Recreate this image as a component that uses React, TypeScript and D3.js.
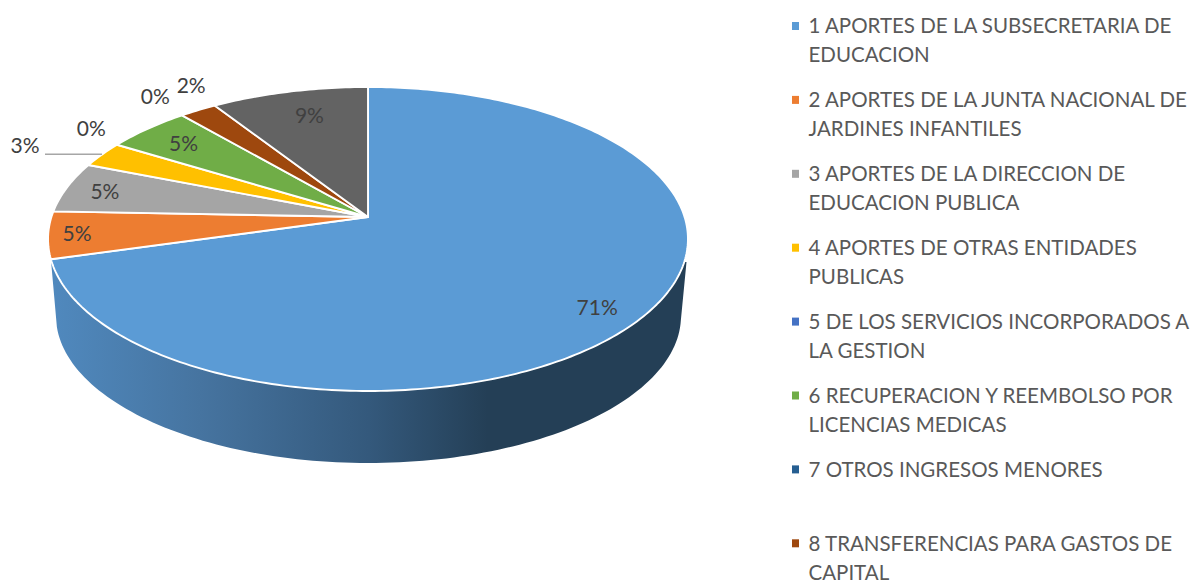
import React from "react";
import * as d3 from "d3";

const WIDTH = 1190;
const HEIGHT = 581;

// Data
const sliceValues = [70.6, 5.0, 5.4, 2.75, 0, 4.95, 0, 2.16, 9.14];
const sliceColors = ["#5B9BD5", "#ED7D31", "#A5A5A5", "#FFC000", "#4472C4", "#70AD47", "#255E91", "#9E480E", "#636363"];
const legendLines = [
  ["1 APORTES DE LA SUBSECRETARIA DE", "EDUCACION"],
  ["2 APORTES DE LA JUNTA NACIONAL DE", "JARDINES INFANTILES"],
  ["3 APORTES DE LA DIRECCION DE", "EDUCACION PUBLICA"],
  ["4 APORTES DE OTRAS ENTIDADES", "PUBLICAS"],
  ["5 DE LOS SERVICIOS INCORPORADOS A", "LA GESTION"],
  ["6 RECUPERACION Y REEMBOLSO POR", "LICENCIAS MEDICAS"],
  ["7 OTROS INGRESOS MENORES"],
  ["8 TRANSFERENCIAS PARA GASTOS DE", "CAPITAL"],
];
// label offsets from the projected slice midpoint (layout only)
const labelNudges = [
  [12, 12.5], [-36, 1.5], [-21, -2.5], [-127.5, -21.5], [-73, -31], [-5, -2.5], [-61, -39], [-38, -45], [6, 0.5],
];

// Perspective projection of the pie's top face
const CX = 368;
const APEX_Y = 217;
const K = 0.1447;
const A = 148.8;
const B = 316.6;
const project = (theta: number, r = 1): [number, number] => {
  const u = r * Math.sin(theta);
  const v = r * Math.cos(theta);
  const d = 1 + K * v;
  return [CX + (B * u) / d, APEX_Y - (A * v) / d];
};

const line = d3.line<[number, number]>();
const arcs = d3.pie<number>().sort(null).value((d) => d)(sliceValues);
const fmt = d3.format(".0f");

function slicePath(a0: number, a1: number) {
  const n = Math.max(2, Math.ceil((a1 - a0) * 60));
  const angles = d3.range(n + 1).map((i) => a0 + ((a1 - a0) * i) / n);
  return line([project(0, 0), ...angles.map((t) => project(t))]) + "Z";
}

// Side wall of the cylinder
const BOTTOM = { cx: 368.5, cy: 316, rx: 312.5, ry: 147 };
function sidePath() {
  const t0 = (91.6 * Math.PI) / 180;
  const t1 = (265.7 * Math.PI) / 180;
  const pts: [number, number][] = d3.range(121).map((i) => {
    const t = t0 + ((t1 - t0) * i) / 120;
    return [BOTTOM.cx + BOTTOM.rx * Math.sin(t), BOTTOM.cy - BOTTOM.ry * Math.cos(t)];
  });
  const end = arcs[0].endAngle;
  return line([[686.5, 262], ...pts, project(end)]) + "Z";
}

const FONT = "Lato, 'Open Sans', sans-serif";

export default function App() {
  const x = d3.scaleLinear().domain([50, 690]).range([0, 1]);
  const gradStops = [
    [50, "#5089BE"],
    [200, "#4674A0"],
    [370, "#34597C"],
    [490, "#243F56"],
    [690, "#243F56"],
  ] as [number, string][];
  const yellow = arcs[3];
  const yellowPoint = project((yellow.startAngle + yellow.endAngle) / 2);
  return (
    <svg width={WIDTH} height={HEIGHT} style={{ position: "absolute", left: 0, top: 0, background: "#fff" }}>
      <defs>
        <linearGradient id="side" x1="0" x2="1" y1="0" y2="0" gradientUnits="objectBoundingBox">
          {gradStops.map(([px, c]) => (
            <stop key={px} offset={x(px)} stopColor={c} />
          ))}
        </linearGradient>
      </defs>
      <path d={sidePath()} fill="url(#side)" />
      {arcs.map((a, i) =>
        a.endAngle > a.startAngle ? (
          <path
            key={i}
            d={slicePath(a.startAngle, a.endAngle)}
            fill={sliceColors[i]}
            stroke="#fff"
            strokeWidth={1.9}
            strokeLinejoin="round"
          />
        ) : null
      )}
      <line x1={45} x2={yellowPoint[0]} y1={154.3} y2={154.3} stroke="#A6A6A6" strokeWidth={1.4} />
      {arcs.map((a, i) => {
        const [px, py] = project((a.startAngle + a.endAngle) / 2, 0.8);
        return (
          <text
            key={i}
            x={px + labelNudges[i][0]}
            y={py + labelNudges[i][1]}
            textAnchor="middle"
            dominantBaseline="central"
            fontFamily={FONT}
            fontSize={21}
            fill="#404040"
          >
            {fmt(a.value)}%
          </text>
        );
      })}
      {legendLines.map((lines, i) => {
        const y0 = 26 + i * 73.9;
        return (
          <g key={i}>
            <rect x={792} y={y0 - 4} width={7} height={8} fill={sliceColors[i]} />
            {lines.map((t, j) => (
              <text
                key={j}
                x={808.5}
                y={y0 + j * 29 + 7.3}
                fontFamily={FONT}
                fontSize={20.5}
                fill="#595959"
              >
                {t}
              </text>
            ))}
          </g>
        );
      })}
    </svg>
  );
}
